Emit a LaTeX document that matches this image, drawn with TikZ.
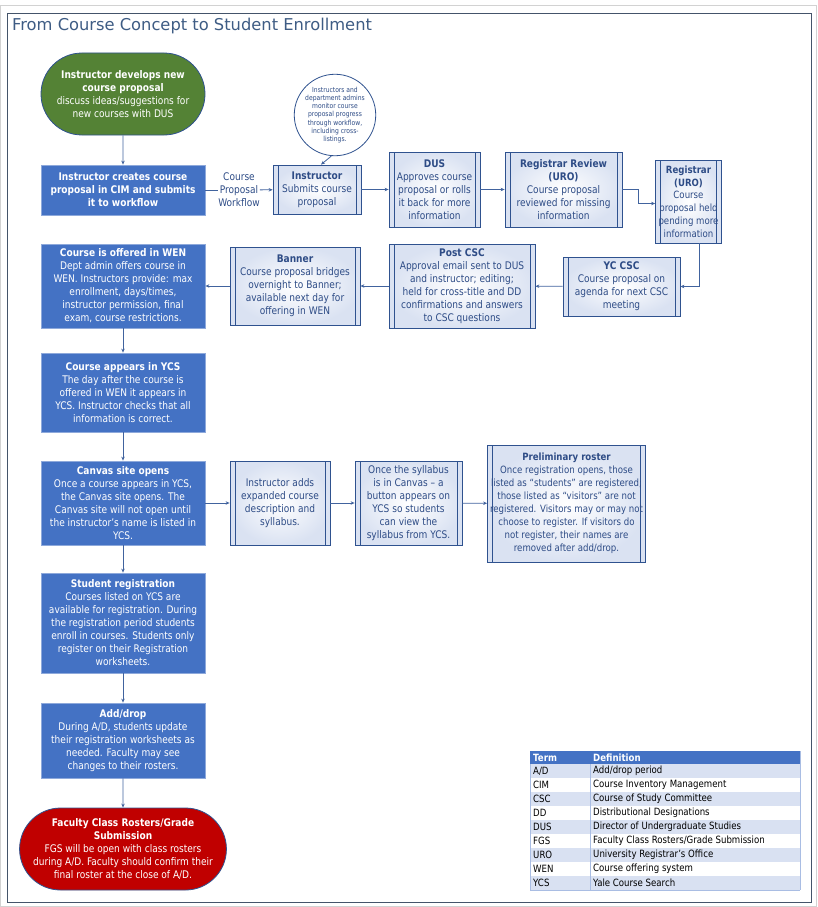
\documentclass[tikz,border=0pt]{standalone}
\usepackage{fontspec}
\setmainfont{DejaVu Sans}[FakeStretch=0.86]
\newfontfamily\titlefont{DejaVu Sans}
\usetikzlibrary{shapes.misc,shapes.geometric,arrows.meta,shadings}
\definecolor{boxblue}{HTML}{4472C4}
\definecolor{boxedge}{HTML}{8EA9DB}
\definecolor{procedge}{HTML}{2F528F}
\definecolor{procshade}{HTML}{DAE2F2}
\definecolor{proctext}{HTML}{2E4C86}
\definecolor{arrcol}{HTML}{41639E}
\definecolor{titlecol}{HTML}{3E5C84}
\definecolor{framecol}{HTML}{44546A}
\definecolor{startgreen}{HTML}{548235}
\definecolor{endred}{HTML}{C00000}
\definecolor{rowblue}{HTML}{D9E1F2}
\definecolor{rowline}{HTML}{A9BDE3}
\tikzset{
  base/.style={align=center, inner sep=0pt, font=\fontsize{10.5}{13}\selectfont},
  blk/.style={base, rectangle, fill=boxblue, draw=boxedge, line width=0.8pt, text=white},
  proc/.style={base, rectangle, draw=procedge, line width=0.8pt, inner color=white, outer color=procshade, text=proctext,
    path picture={\draw[procedge,line width=0.8pt]
      ([xshift=5pt]path picture bounding box.north west) -- ([xshift=5pt]path picture bounding box.south west)
      ([xshift=-5pt]path picture bounding box.north east) -- ([xshift=-5pt]path picture bounding box.south east);}},
  term/.style={base, rounded rectangle, draw=procedge, line width=0.8pt, text=white},
  arr/.style={draw=arrcol, line width=0.8pt, -{Stealth[length=4pt,width=3.5pt]}},
  ln/.style={draw=arrcol, line width=0.8pt},
  cell/.style={anchor=west, inner sep=0pt, font=\fontsize{10}{12}\selectfont},
}
\begin{document}
\begin{tikzpicture}[x=1pt,y=-1pt]
\useasboundingbox (0,0) rectangle (817,907);
\draw[gray!35, line width=0.8pt] (0.5,5) rectangle (816.5,906.5);
\draw[framecol, line width=0.9pt] (7,13) rectangle (811,902);
\node[anchor=west, inner sep=0pt, font=\titlefont\fontsize{16.3}{19}\selectfont, text=titlecol] (title) at (12,26) {From Course Concept to Student Enrollment};

% start
\node[term, fill=startgreen, minimum width=164, minimum height=82] (start) at (123,94)
  {\textbf{Instructor develops new}\\\textbf{course proposal}\\discuss ideas/suggestions for\\new courses with DUS};
% note circle
\node[circle, draw=procedge, line width=0.8pt, fill=white, minimum size=77, inner sep=0pt, align=center, text=proctext,
  font=\fontsize{7}{8.2}\selectfont] (note) at (335,115)
  {Instructors and\\department admins\\monitor course\\proposal progress\\through workflow,\\including cross-\\listings.};

% row 1
\node[blk, minimum width=164, minimum height=50] (cim) at (123,190)
  {\textbf{Instructor creates course}\\\textbf{proposal in CIM and submits}\\\textbf{it to workflow}};
\node[base, text=proctext] (wf) at (239,190) {Course\\Proposal\\Workflow};
\node[proc, minimum width=88, minimum height=49] (instr) at (317,189.5)
  {\textbf{Instructor}\\Submits course\\proposal};
\node[proc, minimum width=91, minimum height=75] (dus) at (434.5,189.5)
  {\textbf{DUS}\\Approves course\\proposal or rolls\\it back for more\\information};
\node[proc, minimum width=117, minimum height=75] (rr) at (563.5,189.5)
  {\textbf{Registrar Review}\\\textbf{(URO)}\\Course proposal\\reviewed for missing\\information};
\node[proc, minimum width=66, minimum height=83, font=\fontsize{10}{12.8}\selectfont] (uro) at (688.5,201.5)
  {\textbf{Registrar}\\\textbf{(URO)}\\Course\\proposal held\\pending more\\information};

% row 2
\node[proc, minimum width=117, minimum height=59] (yccsc) at (621.5,286.5)
  {\textbf{YC CSC}\\Course proposal on\\agenda for next CSC\\meeting};
\node[proc, minimum width=146, minimum height=84] (post) at (462,286)
  {\textbf{Post CSC}\\Approval email sent to DUS\\and instructor; editing;\\held for cross-title and DD\\confirmations and answers\\to CSC questions};
\node[proc, minimum width=130, minimum height=78] (banner) at (295,286)
  {\textbf{Banner}\\Course proposal bridges\\overnight to Banner;\\available next day for\\offering in WEN};
\node[blk, minimum width=164, minimum height=84] (wen) at (123,286)
  {\textbf{Course is offered in WEN}\\Dept admin offers course in\\WEN. Instructors provide: max\\enrollment, days/times,\\instructor permission, final\\exam, course restrictions.};

% left column
\node[blk, minimum width=164, minimum height=79] (ycs) at (123,392.5)
  {\textbf{Course appears in YCS}\\The day after the course is\\offered in WEN it appears in\\YCS. Instructor checks that all\\information is correct.};
\node[blk, minimum width=164, minimum height=84] (canvas) at (123,503)
  {\textbf{Canvas site opens}\\Once a course appears in YCS,\\the Canvas site opens. The\\Canvas site will not open until\\the instructor’s name is listed in\\YCS.};
\node[proc, minimum width=100, minimum height=84] (adds) at (280,503)
  {Instructor adds\\expanded course\\description and\\syllabus.};
\node[proc, minimum width=107, minimum height=84] (syl) at (408.5,503)
  {Once the syllabus\\is in Canvas – a\\button appears on\\YCS so students\\can view the\\syllabus from YCS.};
\node[proc, minimum width=158, minimum height=117, font=\fontsize{10}{13}\selectfont] (prelim) at (566.5,503.5)
  {\textbf{Preliminary roster}\\Once registration opens, those\\listed as “students” are registered;\\those listed as “visitors” are not\\registered. Visitors may or may not\\choose to register. If visitors do\\not register, their names are\\removed after add/drop.};
\node[blk, minimum width=164, minimum height=100] (reg) at (123,623)
  {\textbf{Student registration}\\Courses listed on YCS are\\available for registration. During\\the registration period students\\enroll in courses. Students only\\register on their Registration\\worksheets.};
\node[blk, minimum width=164, minimum height=75] (ad) at (123,740.5)
  {\textbf{Add/drop}\\During A/D, students update\\their registration worksheets as\\needed. Faculty may see\\changes to their rosters.};
\node[term, fill=endred, minimum width=198, minimum height=82] (fgs) at (123,849)
  {\textbf{Faculty Class Rosters/Grade}\\\textbf{Submission}\\FGS will be open with class rosters\\during A/D. Faculty should confirm their\\final roster at the close of A/D.};

% connectors
\draw[arr] (start) -- (cim);
\draw[ln] (cim) -- (wf);
\draw[arr] (wf) -- (instr);
\draw[arr] (note.265) -- ([xshift=4pt]instr.north);
\draw[arr] (instr) -- (dus);
\draw[arr] (dus) -- (rr);
\draw[arr] (rr.east) -- ([xshift=16pt]rr.east) |- ([yshift=-2pt]uro.west);
\draw[arr] ([xshift=11pt]uro.south) |- (yccsc.east);
\draw[arr] (yccsc) -- (post);
\draw[arr] (post) -- (banner);
\draw[arr] (banner) -- (wen);
\draw[arr] (wen) -- (ycs);
\draw[arr] (ycs) -- (canvas);
\draw[arr] (canvas) -- (adds);
\draw[arr] (adds) -- (syl);
\draw[arr] (syl) -- (prelim);
\draw[arr] (canvas) -- (reg);
\draw[arr] (reg) -- (ad);
\draw[arr] (ad) -- (fgs);

% glossary table
\fill[boxblue] (530,751) rectangle (800,764);
\node[cell, text=white] (th1) at (533,757.5) {\textbf{Term}};
\node[cell, text=white] (th2) at (593,757.5) {\textbf{Definition}};
\foreach \i in {0,...,8}{
  \pgfmathsetmacro{\ya}{764+14*\i}
  \ifodd\i \def\rc{white}\else \def\rc{rowblue}\fi
  \fill[\rc] (530,\ya) rectangle (800,\ya+14);
  \draw[rowline, line width=0.6pt] (530,\ya+14) -- (800,\ya+14);
}
\draw[rowline, line width=0.6pt] (590,764) -- (590,890);
\draw[rowline, line width=0.6pt] (530,764) -- (530,890) (800,751) -- (800,890);
\node[cell] (t1) at (533,771) {A/D};  \node[cell] (d1) at (593,771) {Add/drop period};
\node[cell] (t2) at (533,785) {CIM};  \node[cell] (d2) at (593,785) {Course Inventory Management};
\node[cell] (t3) at (533,799) {CSC};  \node[cell] (d3) at (593,799) {Course of Study Committee};
\node[cell] (t4) at (533,813) {DD};   \node[cell] (d4) at (593,813) {Distributional Designations};
\node[cell] (t5) at (533,827) {DUS};  \node[cell] (d5) at (593,827) {Director of Undergraduate Studies};
\node[cell] (t6) at (533,841) {FGS};  \node[cell] (d6) at (593,841) {Faculty Class Rosters/Grade Submission};
\node[cell] (t7) at (533,855) {URO};  \node[cell] (d7) at (593,855) {University Registrar’s Office};
\node[cell] (t8) at (533,869) {WEN};  \node[cell] (d8) at (593,869) {Course offering system};
\node[cell] (t9) at (533,883) {YCS};  \node[cell] (d9) at (593,883) {Yale Course Search};
\end{tikzpicture}
\end{document}
